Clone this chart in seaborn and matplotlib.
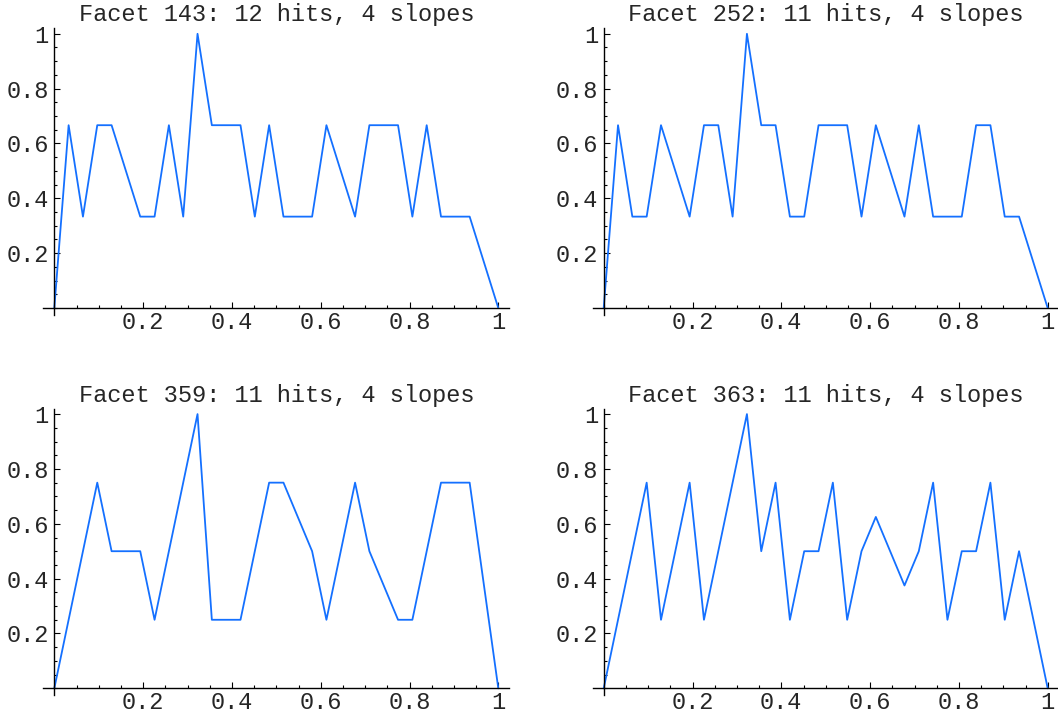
import matplotlib
matplotlib.use("Agg")
import matplotlib.pyplot as plt
from matplotlib.ticker import MultipleLocator, FixedLocator
import seaborn as sns
import pandas as pd

sns.set_style("white")
plt.rcParams['font.family'] = ['Liberation Mono', 'DejaVu Sans Mono']

DENOM = 31.0

titles = ["Facet 143: 12 hits, 4 slopes", "Facet 252: 11 hits, 4 slopes",
          "Facet 359: 11 hits, 4 slopes", "Facet 363: 11 hits, 4 slopes"]

x143 = [0, 1, 2, 3, 4, 6, 7, 8, 9, 10, 11, 13, 14, 15, 16, 18, 19, 21, 22, 24, 25, 26, 27, 29, 31]
y143 = [0, 2/3, 1/3, 2/3, 2/3, 1/3, 1/3, 2/3, 1/3, 1, 2/3, 2/3, 1/3, 2/3, 1/3, 1/3, 2/3, 1/3,
        2/3, 2/3, 1/3, 2/3, 1/3, 1/3, 0]

x252 = [0, 1, 2, 3, 4, 6, 7, 8, 9, 10, 11, 12, 13, 14, 15, 17, 18, 19, 21, 22, 23, 25, 26, 27, 28, 29, 31]
y252 = [0, 2/3, 1/3, 1/3, 2/3, 1/3, 2/3, 2/3, 1/3, 1, 2/3, 2/3, 1/3, 1/3, 2/3, 2/3, 1/3, 2/3,
        1/3, 2/3, 1/3, 1/3, 2/3, 2/3, 1/3, 1/3, 0]

x359 = [0, 3, 4, 6, 7, 10, 11, 13, 15, 16, 18, 19, 21, 22, 24, 25, 27, 29, 31]
y359 = [0, 0.75, 0.5, 0.5, 0.25, 1, 0.25, 0.25, 0.75, 0.75, 0.5, 0.25, 0.75, 0.5, 0.25, 0.25,
        0.75, 0.75, 0]

x363 = [0, 3, 4, 6, 7, 10, 11, 12, 13, 14, 15, 16, 17, 18, 19, 21, 22, 23, 24, 25, 26, 27, 28, 29, 31]
y363 = [0, 0.75, 0.25, 0.75, 0.25, 1, 0.5, 0.75, 0.25, 0.5, 0.5, 0.75, 0.25, 0.5, 0.625, 0.375,
        0.5, 0.75, 0.25, 0.5, 0.5, 0.75, 0.25, 0.5, 0]

series = [(x143, y143), (x252, y252), (x359, y359), (x363, y363)]

tick_vals = [0.2, 0.4, 0.6, 0.8, 1.0]
tick_labels = ["0.2", "0.4", "0.6", "0.8", "1"]

W, H = 1058, 719
fig = plt.figure(figsize=(W / 100, H / 100), dpi=100)

boxes_px = [(43.2, 314.9), (592.6, 314.9), (43.2, 695.2), (592.6, 695.2)]
aw, ah = 466.2, 286.6

for (left, bottom), title, (xs, ys) in zip(boxes_px, titles, series):
    ax = fig.add_axes([left / W, 1 - bottom / H, aw / W, ah / H])
    df = pd.DataFrame({"x": [v / DENOM for v in xs], "y": ys})
    sns.lineplot(data=df, x="x", y="y", ax=ax, color="#1470ff", linewidth=1.3,
                 estimator=None, sort=False)
    ax.set_xlim(-0.025, 1.025)
    ax.set_ylim(-0.025, 1.02)
    for s in ["top", "right"]:
        ax.spines[s].set_visible(False)
    ax.spines["left"].set_position(("data", 0))
    ax.spines["bottom"].set_position(("data", 0))
    ax.spines["left"].set_bounds(-0.025, 1.02)
    for s in ["left", "bottom"]:
        ax.spines[s].set_color("black")
        ax.spines[s].set_linewidth(1.0)
    ax.xaxis.set_major_locator(FixedLocator(tick_vals))
    ax.yaxis.set_major_locator(FixedLocator(tick_vals))
    ax.set_xticklabels(tick_labels)
    ax.set_yticklabels(tick_labels)
    ax.xaxis.set_minor_locator(MultipleLocator(0.05))
    ax.yaxis.set_minor_locator(MultipleLocator(0.05))
    ax.tick_params(which="both", direction="in", color="black", width=0.8,
                   labelsize=17, bottom=True, left=True, top=False, right=False)
    ax.tick_params(which="major", length=4, pad=4)
    ax.tick_params(which="minor", length=2.5)
    ax.tick_params(axis="x", which="major", pad=2)
    ax.set_xlabel("")
    ax.set_ylabel("")
    ax.set_facecolor("white")
    ax.grid(False)
    ax.set_title(title, fontsize=17, pad=5)

fig.savefig("out.png", dpi=100, facecolor="white")
